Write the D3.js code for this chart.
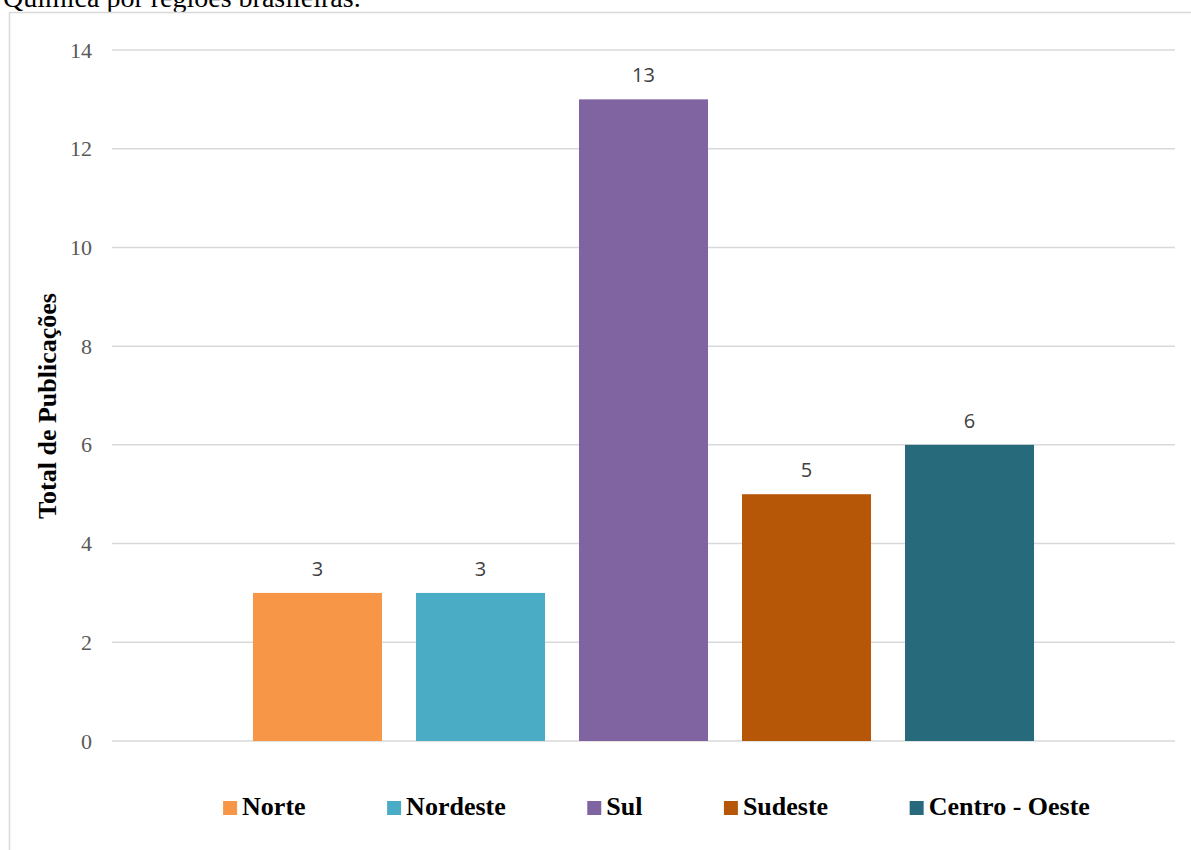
<!DOCTYPE html>
<html>
<head>
<meta charset="utf-8">
<script src="https://cdn.jsdelivr.net/npm/d3@7/dist/d3.min.js"></script>
<style>
  html, body { margin: 0; padding: 0; background: #fff; }
  svg { display: block; }
</style>
</head>
<body>
<svg id="chart" width="1191" height="850"></svg>
<script>
// Publications per Brazilian region
const category = "Regiões";
const regions = ["Norte", "Nordeste", "Sul", "Sudeste", "Centro - Oeste"];
const publications = [3, 3, 13, 5, 6];
const colors = ["#F79646", "#4BACC6", "#8064A2", "#B65708", "#276A7C"];
const yTicks = [0, 2, 4, 6, 8, 10, 12, 14];

const svg = d3.select("#chart");
const W = 1191, H = 850;
const plot = { left: 112, right: 1175, top: 50, bottom: 741 };

// caption above the chart frame (partly cropped by the page top)
svg.append("text")
  .attr("x", 3).attr("y", 7)
  .attr("font-family", "Liberation Serif, Times New Roman, serif")
  .attr("font-size", 28)
  .attr("fill", "#000")
  .text("Química por regiões brasileiras.");

// chart frame
svg.append("path")
  .attr("d", `M${W + 5},12.5 H9.5 V${H + 5}`)
  .attr("fill", "none")
  .attr("stroke", "#d9d9d9")
  .attr("stroke-width", 1.5);

const y = d3.scaleLinear().domain([0, 14]).range([plot.bottom, plot.top]);

const x0 = d3.scaleBand().domain([category])
  .range([plot.left, plot.right])
  .paddingInner(0).paddingOuter(0.1805);
const x1 = d3.scaleBand().domain(regions)
  .range([0, x0.bandwidth()])
  .paddingInner(0.2086).paddingOuter(0);

// gridlines
svg.append("g")
  .selectAll("line")
  .data(yTicks)
  .join("line")
  .attr("x1", plot.left).attr("x2", plot.right)
  .attr("y1", d => y(d)).attr("y2", d => y(d))
  .attr("stroke", "#d9d9d9")
  .attr("stroke-width", 1.5);

// y axis tick labels
const yAxis = d3.axisLeft(y).tickValues(yTicks).tickSize(0).tickPadding(0);
const ya = svg.append("g")
  .attr("transform", `translate(92,0)`)
  .call(yAxis);
ya.select(".domain").remove();
ya.selectAll("text")
  .attr("font-family", "Liberation Serif, Times New Roman, serif")
  .attr("font-size", 22)
  .attr("fill", "#595959")
  .attr("dy", "0.32em");

// axis title
svg.append("text")
  .attr("transform", `translate(56,406) rotate(-90)`)
  .attr("text-anchor", "middle")
  .attr("font-family", "Liberation Serif, Times New Roman, serif")
  .attr("font-weight", "bold")
  .attr("font-size", 26)
  .attr("fill", "#000")
  .text("Total de Publicações");

// bars
const barData = regions.map((r, i) => ({ region: r, value: publications[i], color: colors[i] }));
const g = svg.append("g").attr("transform", `translate(${x0(category)},0)`);
g.selectAll("rect")
  .data(barData)
  .join("rect")
  .attr("x", d => x1(d.region))
  .attr("y", d => y(d.value))
  .attr("width", x1.bandwidth())
  .attr("height", d => y(0) - y(d.value))
  .attr("fill", d => d.color);

// value labels
g.selectAll("text.val")
  .data(barData)
  .join("text")
  .attr("class", "val")
  .attr("x", d => x1(d.region) + x1.bandwidth() / 2)
  .attr("y", d => y(d.value) - 17)
  .attr("text-anchor", "middle")
  .attr("font-family", "Open Sans, Liberation Sans, sans-serif")
  .attr("font-size", 20)
  .attr("fill", "#404040")
  .text(d => d.value);

// legend
const legend = svg.append("g");
const items = legend.selectAll("g")
  .data(barData)
  .join("g");
items.append("rect")
  .attr("y", 801).attr("width", 14).attr("height", 14)
  .attr("fill", d => d.color);
items.append("text")
  .attr("x", 19).attr("y", 815)
  .attr("font-family", "Liberation Serif, Times New Roman, serif")
  .attr("font-weight", "bold")
  .attr("font-size", 26)
  .attr("fill", "#000")
  .text(d => d.region);
const gap = 81.5;
let widths = [];
items.each(function () {
  widths.push(19 + d3.select(this).select("text").node().getComputedTextLength());
});
const total = d3.sum(widths) + gap * (widths.length - 1);
let cx = 656.5 - total / 2;
items.each(function (d, i) {
  d3.select(this).attr("transform", `translate(${cx},0)`);
  cx += widths[i] + gap;
});
</script>
</body>
</html>
